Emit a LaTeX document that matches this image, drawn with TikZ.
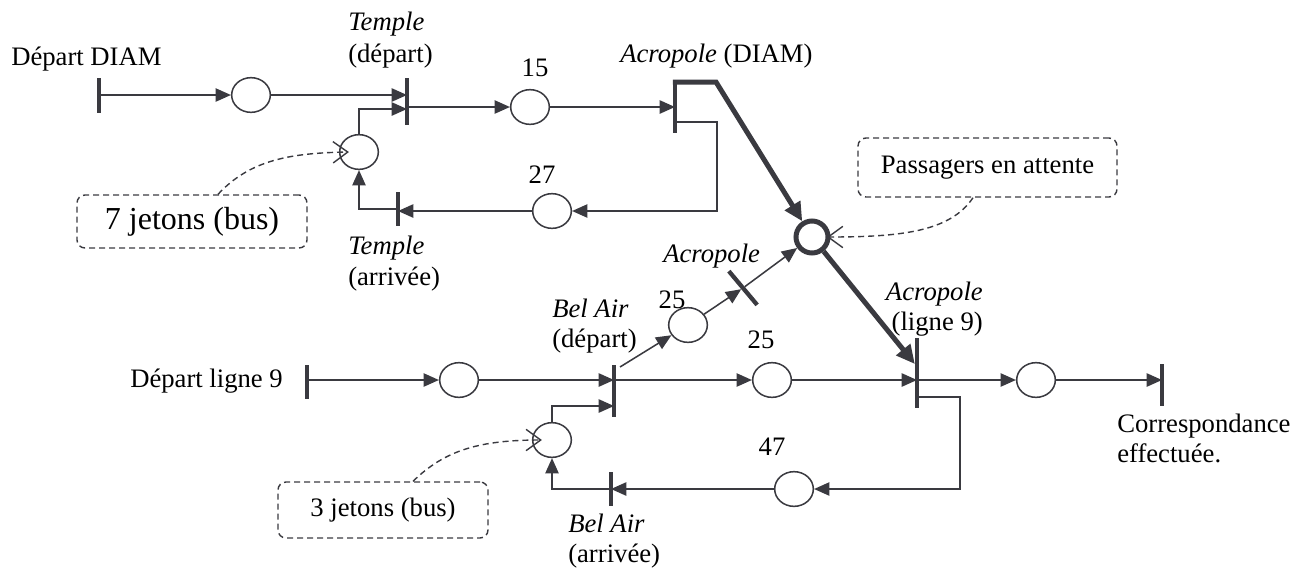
\documentclass[tikz,border=0pt]{standalone}
\usepackage{fontspec}
\setmainfont{Liberation Serif}
\usetikzlibrary{shapes.geometric,arrows.meta,calc}
\definecolor{lc}{RGB}{58,58,64}
\begin{document}
\begin{tikzpicture}[x=0.75pt,y=-0.75pt,
  place/.style={ellipse, draw=lc, line width=1.15pt, minimum width=29pt, minimum height=26pt, inner sep=0pt},
  pwait/.style={circle, draw=lc, line width=3.75pt, minimum size=24pt, inner sep=0pt},
  bar/.style={fill=lc, draw=none, minimum width=3.2pt, inner sep=0pt, outer sep=0pt},
  arc/.style={draw=lc, line width=1.15pt, -{Triangle[length=11.5pt,width=10pt]}},
  thickarc/.style={draw=lc, line width=3.75pt, line join=miter, -{Triangle[length=14pt,width=13pt]}},
  callout/.style={draw=lc, line width=1.05pt, dash pattern=on 4.5pt off 3pt, rounded corners=6pt, inner sep=0pt, font=\fontsize{20}{24}\selectfont},
  dasharc/.style={draw=lc, line width=1.05pt, dash pattern=on 4.5pt off 3pt, -{Straight Barb[length=11pt,width=16pt]}},
  lbl/.style={font=\fontsize{20}{24}\selectfont, inner sep=0pt, text=black},
  ilbl/.style={font=\fontsize{20}{24}\selectfont\itshape, inner sep=0pt, text=black}]
\useasboundingbox (0,0) rectangle (1306,569);

% transitions and places
\node[bar, minimum height=26.25pt] (Ts1) at (99,95.5) {};
\node[place] (P1) at (251,95) {};
\node[bar, minimum height=35.25pt] (Tdep) at (407,101.5) {};
\node[place] (Pbus7) at (359,152) {};
\node[place] (P15) at (530,107) {};
\node[bar, minimum height=38.25pt] (TacrD) at (675,107.5) {};
\node[place] (P27) at (552,211) {};
\node[bar, minimum height=25.5pt] (Tarr) at (398,209) {};
\node[pwait] (Pwait) at (812,237) {};
\node[bar, minimum height=25.5pt] (Ts2) at (307,382) {};
\node[place] (P9a) at (459,380) {};
\node[bar, minimum height=39pt] (TBAd) at (614,391) {};
\node[place] (Pbus3) at (552,440) {};
\node[place] (P25a) at (688,325) {};
\node[bar, minimum height=33pt, rotate=40] (Tacr) at (743,288) {};
\node[place] (P25b) at (772,380) {};
\node[bar, minimum height=52.5pt] (TAcr9) at (917,373) {};
\node[place] (Pout) at (1036,380) {};
\node[bar, minimum height=31.5pt] (Tend) at (1162,385) {};
\node[place] (P47) at (794,489) {};
\node[bar, minimum height=25.5pt] (TBAa) at (611,489) {};

% callout boxes
\node[callout, minimum width=172.5pt, minimum height=39.75pt, font=\fontsize{24}{28}\selectfont] (B7) at (192,221.5) {7 jetons (bus)\hspace{8pt}};
\node[callout, minimum width=157.5pt, minimum height=42pt] (B3) at (383,510) {3 jetons (bus)};
\node[callout, minimum width=194.25pt, minimum height=44.25pt] (BP) at (987.5,167.5) {Passagers en attente\hspace{6pt}};

% labels
\node[lbl, anchor=base west] (Ldiam) at (11,65) {Départ DIAM};
\node[ilbl, anchor=base west] (Ltd1) at (348,30) {Temple};
\node[lbl, anchor=base west] (Ltd2) at (348,62) {(départ)};
\node[lbl, anchor=base] (L15) at (535,76) {15};
\node[lbl, anchor=base west] (Lacd) at (620,62) {\textit{Acropole} (DIAM)};
\node[lbl, anchor=base] (L27) at (542,183) {27};
\node[ilbl, anchor=base west] (Lta1) at (348,254) {Temple};
\node[lbl, anchor=base west] (Lta2) at (348,285) {(arrivée)};
\node[ilbl, anchor=base west] (Lacr) at (663,262) {Acropole};
\node[lbl, anchor=base] (L25a) at (672,308) {25};
\node[ilbl, anchor=base west] (Lbd1) at (552,317) {Bel Air};
\node[lbl, anchor=base west] (Lbd2) at (552,347) {(départ)};
\node[lbl, anchor=base] (L25b) at (761,348) {25};
\node[ilbl, anchor=base east] (La91) at (983,300) {Acropole};
\node[lbl, anchor=base east] (La92) at (983,330) {(ligne 9)};
\node[lbl, anchor=base west] (Ll9) at (130,387) {Départ ligne 9};
\node[lbl, anchor=base west] (Lc1) at (1117,432) {Correspondance};
\node[lbl, anchor=base west] (Lc2) at (1117,462) {effectuée.};
\node[lbl, anchor=base] (L47) at (772,455) {47};
\node[ilbl, anchor=base west] (Lba1) at (568,532) {Bel Air};
\node[lbl, anchor=base west] (Lba2) at (568,562) {(arrivée)};

% connectors: DIAM line
\draw[arc] (Ts1.center |- P1.west) -- (P1.west);
\draw[arc] (P1.east) -- (Tdep.center |- P1.east);
\draw[arc] (Pbus7.north) |- (Tdep.center |- 0,109);
\draw[arc] (Tdep.center |- P15.west) -- (P15.west);
\draw[arc] (P15.east) -- (TacrD.center |- P15.east);
\draw[thickarc] (TacrD.north west) -- (TacrD.north -| 716,0) -- (Pwait);
\draw[arc] (TacrD.center |- 0,122) -- (717,122) |- (P27.east);
\draw[arc] (P27.west) -- (Tarr.center |- P27.west);
\draw[arc] (Tarr.center) -| (Pbus7.south);

% connectors: line 9
\draw[arc] (Ts2.center |- P9a.west) -- (P9a.west);
\draw[arc] (P9a.east) -- (TBAd.center |- P9a.east);
\draw[arc] (Pbus3.north) |- (TBAd.center |- 0,406);
\draw[arc] (TBAd.center |- P25b.west) -- (P25b.west);
\draw[arc] ($(TBAd.center |- 0,367)+(6,0)$) -- (P25a);
\draw[arc] (P25a) -- (Tacr);
\draw[arc] (Tacr) -- (Pwait);
\draw[thickarc] (Pwait) -- (TAcr9.west |- 0,364);
\draw[arc] (P25b.east) -- (TAcr9.center |- P25b.east);
\draw[arc] (TAcr9.center |- Pout.west) -- (Pout.west);
\draw[arc] (Pout.east) -- (Tend.center |- Pout.east);
\draw[arc] (TAcr9.center |- 0,397) -- (960,397) |- (P47.east);
\draw[arc] (P47.west) -- (TBAa.center |- P47.west);
\draw[arc] (TBAa.center) -| (Pbus3.south);

% callout pointers
\draw[dasharc] (B7.north -| 218,0) .. controls (250,160) and (290,153) .. ($(Pbus7.west)+(10,0)$);
\draw[dasharc] (B3.north -| 413,0) .. controls (445,450) and (480,440) .. ($(Pbus3.west)+(10,0)$);
\draw[dasharc] (BP.south -| 973,0) .. controls (950,232) and (900,237) .. ($(Pwait.east)+(-3.5,0)$);
\end{tikzpicture}
\end{document}
